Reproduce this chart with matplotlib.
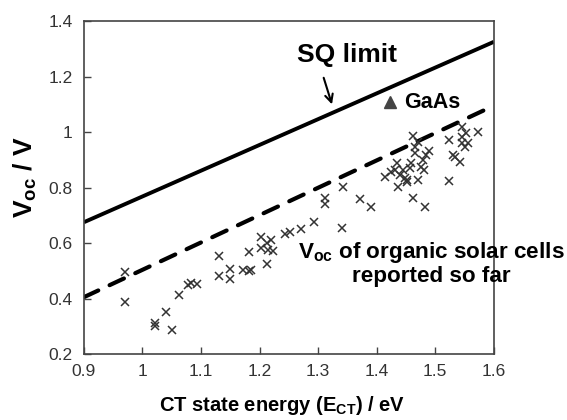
import matplotlib
matplotlib.use("Agg")
import matplotlib.pyplot as plt
from matplotlib.ticker import FuncFormatter

plt.rcParams['font.family'] = ['Liberation Sans', 'DejaVu Sans']
plt.rcParams['mathtext.fontset'] = 'custom'
plt.rcParams['mathtext.rm'] = 'Liberation Sans'
plt.rcParams['mathtext.bf'] = 'Liberation Sans:bold'
plt.rcParams['mathtext.it'] = 'Liberation Sans:italic'

# CT state energy (eV) and Voc (V) of organic solar cells
e_ct = [0.971, 0.971, 1.021, 1.022, 1.041, 1.051, 1.063, 1.082, 1.077, 1.093,
        1.130, 1.130, 1.150, 1.150, 1.171, 1.182, 1.185, 1.182, 1.202, 1.202,
        1.212, 1.220, 1.215, 1.223, 1.212, 1.243, 1.252, 1.270, 1.293, 1.312,
        1.312, 1.342, 1.371, 1.391, 1.341, 1.414, 1.425, 1.434, 1.436, 1.448,
        1.452, 1.456, 1.462, 1.462, 1.465, 1.465, 1.459, 1.470, 1.475, 1.479,
        1.484, 1.490, 1.481, 1.482, 1.445, 1.451, 1.523, 1.523, 1.530, 1.533,
        1.542, 1.545, 1.545, 1.550, 1.553, 1.556, 1.573, 1.545, 1.470, 1.432,
        1.439]
voc = [0.494, 0.386, 0.312, 0.301, 0.352, 0.286, 0.413, 0.457, 0.449, 0.451,
       0.554, 0.483, 0.505, 0.469, 0.503, 0.499, 0.503, 0.566, 0.623, 0.581,
       0.599, 0.611, 0.575, 0.572, 0.524, 0.632, 0.641, 0.650, 0.675, 0.761,
       0.741, 0.803, 0.759, 0.729, 0.653, 0.839, 0.857, 0.887, 0.803, 0.833,
       0.821, 0.869, 0.761, 0.987, 0.947, 0.923, 0.887, 0.827, 0.875, 0.899,
       0.917, 0.933, 0.863, 0.731, 0.863, 0.827, 0.971, 0.823, 0.917, 0.911,
       0.893, 0.983, 0.959, 0.947, 0.995, 0.959, 1.001, 1.019, 0.965, 0.863,
       0.845]

# SQ limit and dashed guide line
sq_x = [0.9, 1.6]
sq_y = [0.675, 1.325]
guide_x = [0.9, 1.595]
guide_y = [0.405, 1.09]

gaas_x = [1.422]
gaas_y = [1.108]

x_ticks = [0.9, 1.0, 1.1, 1.2, 1.3, 1.4, 1.5, 1.6]
y_ticks = [0.2, 0.4, 0.6, 0.8, 1.0, 1.2, 1.4]

fig = plt.figure(figsize=(5.67, 4.2), dpi=100)
ax = fig.add_axes([0.148, 0.157, 0.723, 0.793])

ax.plot(sq_x, sq_y, color='black', linewidth=2.8, solid_capstyle='butt')
ax.plot(guide_x, guide_y, color='black', linewidth=3, dashes=(3.8, 3.0),
        dash_capstyle='round')
ax.plot(e_ct, voc, linestyle='none', marker='x', markersize=6,
        markeredgewidth=1.1, color='#333333')
ax.plot(gaas_x, gaas_y, linestyle='none', marker='^', markersize=8,
        color='#444444')

ax.text(1.35, 1.277, 'SQ limit', fontsize=19, fontweight='bold',
        ha='center', va='center')
ax.annotate('', xy=(1.325, 1.09), xytext=(1.308, 1.205),
            arrowprops=dict(arrowstyle='->', color='black', lw=1.5,
                            mutation_scale=14))
ax.text(1.447, 1.108, 'GaAs', fontsize=15.5, fontweight='bold',
        ha='left', va='center')
ax.text(1.494, 0.526, r'$\mathbf{V}_{\mathbf{oc}}$ of organic solar cells' + '\nreported so far',
        fontsize=16.2, fontweight='bold', ha='center', va='center',
        linespacing=1.05, clip_on=False)

ax.set_xlim(0.9, 1.6)
ax.set_ylim(0.2, 1.4)
ax.set_xticks(x_ticks)
ax.set_yticks(y_ticks)
fmt = FuncFormatter(lambda v, p: '%g' % round(v, 2))
ax.xaxis.set_major_formatter(fmt)
ax.yaxis.set_major_formatter(fmt)
ax.tick_params(direction='in', length=5, width=1, color='#444444',
               labelsize=12.5, labelcolor='#333333')
ax.tick_params(axis='x', pad=7)
ax.tick_params(axis='y', pad=8)
for s in ax.spines.values():
    s.set_color('#444444')
    s.set_linewidth(1.2)

ax.set_xlabel(r'CT state energy (E$_{\mathbf{CT}}$) / eV', fontsize=14.5,
              fontweight='bold')
ax.xaxis.set_label_coords(0.483, -0.12)
ax.set_ylabel(r'$\mathbf{V}_{\mathbf{oc}}$ / V', fontsize=19,
              fontweight='bold')
ax.yaxis.set_label_coords(-0.11, 0.53)

fig.savefig('out.png', dpi=100)
